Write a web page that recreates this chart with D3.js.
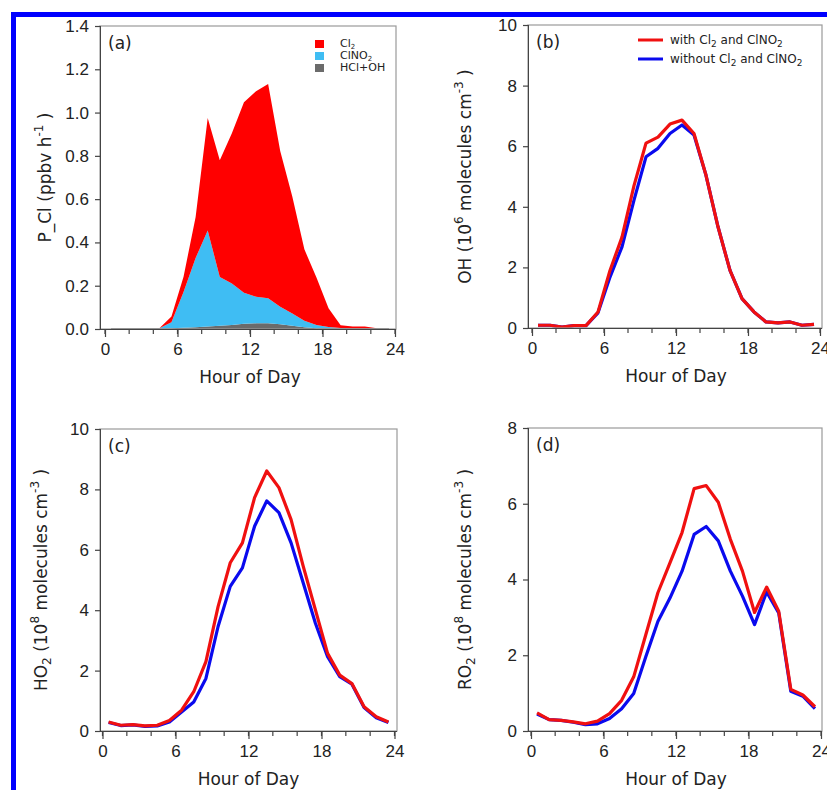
<!DOCTYPE html>
<html lang="en">
<head>
<meta charset="UTF-8">
<title>Cl production and radicals</title>
<script src="https://d3js.org/d3.v7.min.js"></script>
<style>
  body { margin: 0; background: #fff; }
  svg { font-family: "DejaVu Sans", sans-serif; }
  .tick text { font-size: 17px; fill: #222; }
  .axis path, .axis line { stroke: #444; }
</style>
</head>
<body>
<svg width="827" height="790"></svg>
<script>
// hours (half-hour midpoints)
const hours = d3.range(24).map(i => i + 0.5);

// panel (a): Cl production, ppbv/h, stacked
const pHclOh = [0.004,0.004,0.004,0.004,0.004,0.004,0.006,0.008,0.012,0.015,0.018,0.024,0.026,0.026,0.022,0.015,0.008,0.004,0.003,0.003,0.003,0.003,0.003,0.003];
const pClno2 = [0,0,0,0,0,0.027,0.165,0.32,0.443,0.225,0.192,0.144,0.123,0.116,0.081,0.057,0.03,0.014,0.006,0.002,0,0,0,0];
const pCl2   = [0,0,0,0,0,0.027,0.07,0.19,0.52,0.54,0.695,0.88,0.95,0.99,0.72,0.54,0.33,0.22,0.087,0.012,0.008,0.008,0,0];

// panel (b): OH, 1e6 molecules/cm3
const ohWith    = [0.09,0.09,0.03,0.08,0.08,0.53,1.9,3.0,4.7,6.1,6.3,6.73,6.86,6.42,5.04,3.34,1.9,0.97,0.53,0.2,0.17,0.2,0.09,0.12];
const ohWithout = [0.09,0.09,0.03,0.08,0.08,0.5,1.68,2.68,4.22,5.65,5.93,6.42,6.7,6.37,5.04,3.34,1.9,0.97,0.53,0.2,0.17,0.2,0.09,0.12];

// panel (c): HO2, 1e8 molecules/cm3
const ho2With    = [0.3,0.19,0.21,0.17,0.19,0.35,0.69,1.3,2.3,4.12,5.57,6.23,7.73,8.61,8.06,7.0,5.45,4.01,2.57,1.85,1.57,0.8,0.47,0.3];
const ho2Without = [0.28,0.18,0.2,0.15,0.17,0.3,0.63,0.96,1.74,3.46,4.79,5.4,6.78,7.62,7.23,6.23,4.9,3.57,2.46,1.8,1.55,0.78,0.44,0.28];

// panel (d): RO2, 1e8 molecules/cm3
const ro2With    = [0.48,0.3,0.28,0.24,0.19,0.26,0.46,0.81,1.43,2.54,3.65,4.44,5.24,6.4,6.48,6.04,5.06,4.22,3.13,3.8,3.16,1.1,0.95,0.64];
const ro2Without = [0.45,0.3,0.28,0.23,0.17,0.19,0.33,0.59,0.99,1.96,2.89,3.51,4.22,5.19,5.4,5.02,4.22,3.56,2.81,3.67,3.12,1.05,0.92,0.59];

const xTicks = [0, 6, 12, 18, 24];
const xMinor = d3.range(0, 25, 2);

const svg = d3.select("svg");

// blue frame round the figure
svg.append("rect")
  .attr("x", 13.5).attr("y", 14.5)
  .attr("width", 840).attr("height", 800)
  .attr("fill", "none").attr("stroke", "#0000ff").attr("stroke-width", 5);

// panel boxes: frame, x range for 0..24, y domain/ticks
const panels = [
  { key: "a", left: 100, right: 396, top: 26, bottom: 329, x0: 105, x1: 395,
    yMax: 1.4, yTicks: d3.range(0, 1.41, 0.2), fmt: d3.format(".1f") },
  { key: "b", left: 528, right: 822, top: 25, bottom: 328, x0: 532, x1: 820,
    yMax: 10, yTicks: d3.range(0, 11, 2), fmt: d3.format("d") },
  { key: "c", left: 100, right: 397, top: 429, bottom: 731, x0: 102.5, x1: 394.5,
    yMax: 10, yTicks: d3.range(0, 11, 2), fmt: d3.format("d") },
  { key: "d", left: 528, right: 822, top: 428, bottom: 731, x0: 531, x1: 821,
    yMax: 8, yTicks: d3.range(0, 9, 2), fmt: d3.format("d") }
];

function setup(p) {
  const g = svg.append("g");
  const x = d3.scaleLinear().domain([0, 24]).range([p.x0, p.x1]);
  const y = d3.scaleLinear().domain([0, p.yMax]).range([p.bottom, p.top]);

  // light frame
  g.append("rect")
    .attr("x", p.left).attr("y", p.top)
    .attr("width", p.right - p.left).attr("height", p.bottom - p.top)
    .attr("fill", "none").attr("stroke", "#9a9a9a").attr("stroke-width", 1.2);

  // minor x ticks
  g.selectAll(".minor").data(xMinor).join("line")
    .attr("x1", d => x(d)).attr("x2", d => x(d))
    .attr("y1", p.bottom).attr("y2", p.bottom + 5)
    .attr("stroke", "#444").attr("stroke-width", 1.2);

  const xAxis = d3.axisBottom(x).tickValues(xTicks).tickSize(8).tickPadding(6);
  g.append("g").attr("class", "axis")
    .attr("transform", `translate(0,${p.bottom})`)
    .call(xAxis)
    .call(s => s.select(".domain").attr("d", `M${p.left},0.5H${p.right}`))
    .call(s => s.selectAll("line").attr("stroke-width", 1.2));

  const yAxis = d3.axisLeft(y).tickValues(p.yTicks).tickFormat(p.fmt).tickSize(5).tickPadding(6);
  g.append("g").attr("class", "axis")
    .attr("transform", `translate(${p.left},0)`)
    .call(yAxis)
    .call(s => s.select(".domain").attr("d", `M0.5,${p.top}V${p.bottom}`))
    .call(s => s.selectAll("line").attr("stroke-width", 1.2));

  // x title
  g.append("text")
    .attr("x", (p.x0 + p.x1) / 2).attr("y", p.bottom + 54)
    .attr("text-anchor", "middle").attr("font-size", 17).attr("fill", "#222")
    .text("Hour of Day");

  // panel letter
  g.append("text")
    .attr("x", p.left + 8).attr("y", p.top + 23)
    .attr("font-size", 17).attr("fill", "#222")
    .text(`(${p.key})`);

  return { g, x, y };
}

// y title with sub/superscripts; parts: [text, "sup"|"sub"|null]
function yTitle(g, p, cx, parts) {
  const t = g.append("text")
    .attr("transform", `translate(${cx},${(p.top + p.bottom) / 2}) rotate(-90)`)
    .attr("text-anchor", "middle").attr("font-size", 17).attr("fill", "#222");
  let shift = 0;
  parts.forEach(([s, kind]) => {
    const target = kind === "sup" ? -8 : kind === "sub" ? 4 : 0;
    const ts = t.append("tspan").attr("dy", target - shift).text(s);
    if (kind) ts.attr("font-size", 12);
    shift = target;
  });
}

// ---- panel a
{
  const p = panels[0];
  const { g, x, y } = setup(p);
  const rows = hours.map((h, i) => ({ h, hcl: pHclOh[i], clno2: pClno2[i], cl2: pCl2[i] }));
  const keys = ["hcl", "clno2", "cl2"];
  const colors = { cl2: "#ff0000", clno2: "#3fbdf3", hcl: "#6b6b6b" };
  const series = d3.stack().keys(keys)(rows);
  const area = d3.area()
    .x(d => x(d.data.h))
    .y0(d => y(d[0]))
    .y1(d => y(d[1]));
  g.insert("g", ":first-child").selectAll("path").data(series).join("path")
    .attr("d", area)
    .attr("fill", d => colors[d.key]);
  yTitle(g, p, 51, [["P_Cl (ppbv h", null], ["-1", "sup"], [" )", null]]);

  const leg = [["Cl", "2", "cl2"], ["ClNO", "2", "clno2"], ["HCl+OH", "", "hcl"]];
  leg.forEach(([a, sub, k], i) => {
    const yy = 44 + i * 12;
    g.append("rect").attr("x", 315).attr("y", yy - 4).attr("width", 9).attr("height", 8)
      .attr("fill", colors[k]);
    const t = g.append("text").attr("x", 340).attr("y", yy + 3)
      .attr("font-size", 11).attr("fill", "#222");
    t.append("tspan").text(a);
    if (sub) t.append("tspan").attr("font-size", 7).attr("dy", 2).text(sub);
  });
}

function linePanel(p, withV, withoutV, titleParts, titleX) {
  const { g, x, y } = setup(p);
  const line = d3.line().x((d, i) => x(hours[i])).y(d => y(d));
  const lines = g.insert("g", ":first-child");
  lines.append("path").attr("d", line(withoutV))
    .attr("fill", "none").attr("stroke", "#0a0aee").attr("stroke-width", 3.2)
    .attr("stroke-linejoin", "round");
  lines.append("path").attr("d", line(withV))
    .attr("fill", "none").attr("stroke", "#f01010").attr("stroke-width", 3.2)
    .attr("stroke-linejoin", "round");
  yTitle(g, p, titleX, titleParts);
  return g;
}

// ---- panel b
{
  const g = linePanel(panels[1], ohWith, ohWithout,
    [["OH (10", null], ["6", "sup"], [" molecules cm", null], ["-3", "sup"], [" )", null]], 471);
  const leg = [["with Cl", "#f01010"], ["without Cl", "#0a0aee"]];
  leg.forEach(([a, c], i) => {
    const yy = 40 + i * 19;
    g.append("line").attr("x1", 638).attr("x2", 663).attr("y1", yy).attr("y2", yy)
      .attr("stroke", c).attr("stroke-width", 3);
    const t = g.append("text").attr("x", 670).attr("y", yy + 4)
      .attr("font-size", 12).attr("fill", "#222");
    t.append("tspan").text(a);
    t.append("tspan").attr("font-size", 9).attr("dy", 3).text("2");
    t.append("tspan").attr("dy", -3).text(" and ClNO");
    t.append("tspan").attr("font-size", 9).attr("dy", 3).text("2");
  });
}

// ---- panel c
linePanel(panels[2], ho2With, ho2Without,
  [["HO", null], ["2", "sub"], [" (10", null], ["8", "sup"], [" molecules cm", null], ["-3", "sup"], [" )", null]], 47);

// ---- panel d
linePanel(panels[3], ro2With, ro2Without,
  [["RO", null], ["2", "sub"], [" (10", null], ["8", "sup"], [" molecules cm", null], ["-3", "sup"], [" )", null]], 471);
</script>
</body>
</html>
